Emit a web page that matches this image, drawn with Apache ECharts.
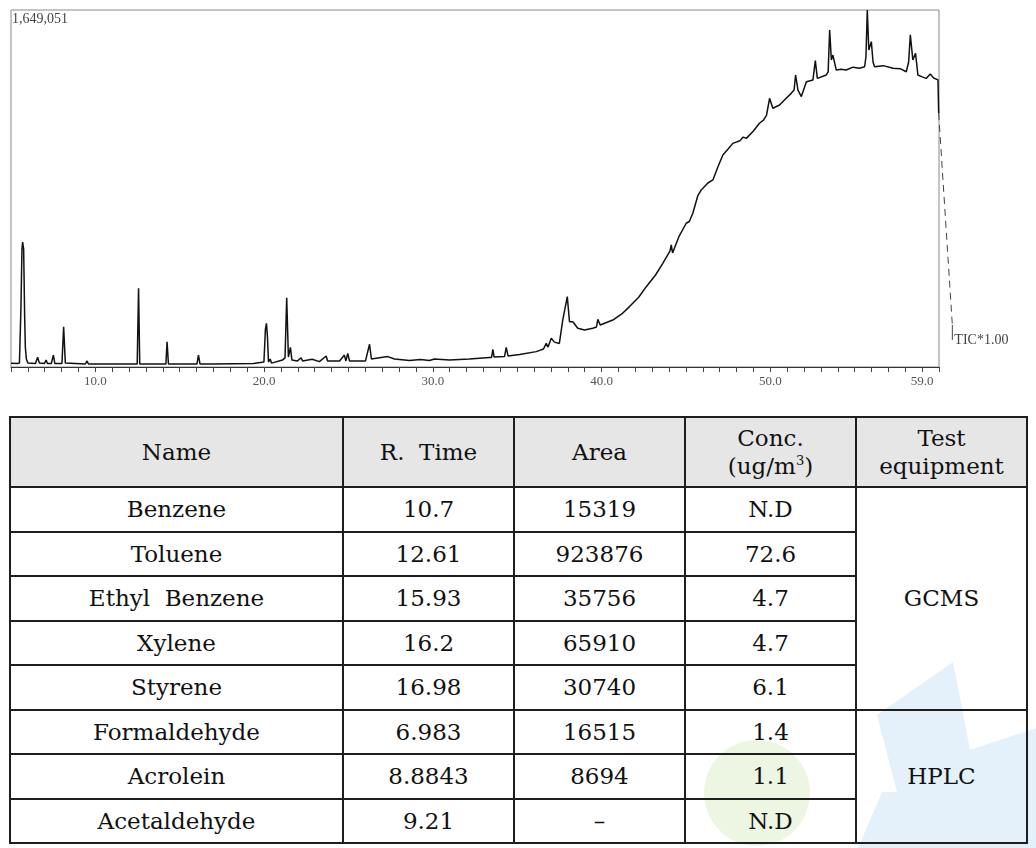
<!DOCTYPE html>
<html>
<head>
<meta charset="utf-8">
<script src="https://cdn.jsdelivr.net/npm/echarts@6/dist/echarts.min.js"></script>
<style>
  html,body{margin:0;padding:0;background:#fff;}
  body{width:1036px;height:848px;overflow:hidden;position:relative;}
  #chart{position:absolute;left:0;top:0;width:1036px;height:400px;}
  .wm-green{position:absolute;left:704px;top:740px;width:106px;height:106px;border-radius:50%;background:#edf6e2;z-index:0;}
  .wm-blue{position:absolute;left:0;top:0;width:1036px;height:848px;background:#e4f1fa;z-index:0;
    clip-path:polygon(953px 662px, 970px 750px, 1036px 728px, 1036px 848px, 858px 848px, 882px 792px, 897px 792px, 877px 715px);}
  #tbl{position:absolute;left:9px;top:416px;border-collapse:collapse;table-layout:fixed;z-index:1;
    font-family:'DejaVu Serif',serif;font-size:23px;color:#111;}
  #tbl td,#tbl th{border:2px solid #1e1e1e;text-align:center;vertical-align:middle;padding:0;font-weight:normal;white-space:pre;}
  #tbl th{background:#e6e6e6;line-height:28px;height:68px;}
  #tbl td{height:42.5px;line-height:26px;}
  #tbl sup{font-size:13px;line-height:0;vertical-align:9px;}
</style>
</head>
<body>
<div class="wm-blue"></div>
<div class="wm-green"></div>
<div id="chart"></div>
<table id="tbl"></table>
<script>
// ---- Chromatogram (TIC) data: retention time (min) and intensity (x1000 counts) ----
const earlyTime = [5.00,5.38,5.50,5.59,5.65,5.69,5.75,5.81,5.85,5.91,6.00,6.45,6.58,6.68,6.98,7.08,7.16,7.39,7.51,7.60,8.02,8.12,8.22,9.41,9.51,9.59,10.27,10.34,10.42,12.48,12.56,12.63,14.18,14.25,14.33,16.02,16.11,16.20,16.91,16.96,17.03,19.37];
const earlyInt  = [17,16,18,277,545,577,545,231,92,37,18,16,45,18,16,32,16,16,55,16,16,186,18,14,28,14,14,23,14,14,364,14,14,117,14,14,55,14,14,20,14,16];

const midTime = [19.99,20.08,20.14,20.20,20.26,20.36,20.44,21.09,21.24,21.34,21.44,21.56,21.65,21.98,22.20,22.28,22.85,23.28,23.68,23.76,24.47,24.76,24.85,24.96,25.06,26.01,26.25,26.36,27.33,27.73,28.62,29.27,29.80,30.10,30.99,32.17,33.36,33.48,33.56,33.63,34.25,34.35,34.46,35.14,36.13,36.56,36.72,36.83,37.02,37.21,37.50,37.70,37.97,38.10,38.30,38.59,38.99,39.48,39.70,39.78,39.92];
const midInt  = [23,176,202,139,23,37,18,32,42,320,46,91,32,28,43,28,36,25,51,28,28,55,28,63,28,28,105,37,48,37,30,35,30,37,32,37,44,44,82,46,48,91,51,58,71,83,109,92,133,115,109,217,325,209,209,179,171,179,185,220,194];

const lateTime = [40.67,41.2,41.66,42.2,42.65,43.2,43.63,44.06,44.13,44.21,44.6,45.02,45.2,45.41,45.7,45.91,46.0,46.3,46.60,46.9,47.19,47.5,47.78,48.2,48.4,48.58,49.0,49.36,49.6,49.78,49.96,50.15,50.55,50.9,51.24,51.41,51.50,51.64,51.84,52.14,52.53,52.67,52.79,53.32,53.43,53.52,53.62,53.71,53.91,54.2,54.50,54.9,55.29,55.59,55.67,55.75,55.84,55.99,56.09,56.18,56.7,57.27,57.7,58.06,58.20,58.30,58.45,58.61,58.75,59.0,59.24,59.48,59.68,59.94,59.98];
const lateInt  = [217,245,279,322,371,425,479,536,564,527,605,664,672,710,790,818,815,850,864,925,979,1007,1033,1045,1062,1056,1090,1126,1140,1164,1241,1195,1210,1238,1264,1279,1349,1279,1249,1318,1326,1415,1333,1349,1363,1557,1418,1441,1372,1375,1372,1385,1380,1387,1432,1649,1464,1503,1409,1387,1392,1380,1378,1364,1409,1534,1418,1449,1349,1340,1333,1353,1335,1326,1173];

// leader line from the trace end down to the "TIC*1.00" tag
const leaderTime = [59.98, 60.79];
const leaderInt  = [1173, 194];
const tagTime = [60.79, 60.79];
const tagInt  = [194, 125];

const fullScale = 1649.051;        // x1000 counts
const fullScaleLabel = '1,649,051';
const traceLabel = 'TIC*1.00';
const xLabelTicks = [10, 20, 30, 40, 50, 59];

// ---- Table data ----
const headers = ['Name', 'R.  Time', 'Area', 'Conc.<br>(ug/m<sup>3</sup>)', 'Test<br>equipment'];
const names = ['Benzene','Toluene','Ethyl  Benzene','Xylene','Styrene','Formaldehyde','Acrolein','Acetaldehyde'];
const rTimes = ['10.7','12.61','15.93','16.2','16.98','6.983','8.8843','9.21'];
const areas = ['15319','923876','35756','65910','30740','16515','8694','–'];
const concs = ['N.D','72.6','4.7','4.7','6.1','1.4','1.1','N.D'];
const equipment = ['GCMS','HPLC'];
const equipmentRows = [5, 3];

function zip(a, b){ return a.map((v, i) => [v, b[i]]); }
const trace = zip(earlyTime, earlyInt).concat(zip(midTime, midInt), zip(lateTime, lateInt));

const serif = 'Liberation Serif';
const chart = echarts.init(document.getElementById('chart'));
chart.setOption({
  animation: false,
  title: {
    text: fullScaleLabel, left: 12, top: 12, padding: 0,
    textStyle: {fontFamily: serif, fontSize: 14, fontWeight: 'normal', color: '#444'}
  },
  grid: {left: 11, right: 97, top: 10, bottom: 33, show: true, borderColor: '#8a8a8a', borderWidth: 1},
  xAxis: {
    type: 'value', min: 5, max: 60, interval: 1,
    axisLine: {lineStyle: {color: '#333', width: 1}},
    axisTick: {length: 5, lineStyle: {color: '#444'}},
    splitLine: {show: false},
    axisLabel: {
      margin: 8, fontFamily: serif, fontSize: 13, color: '#555',
      formatter: v => xLabelTicks.indexOf(Math.round(v)) >= 0 ? Number(v).toFixed(1) : ''
    }
  },
  yAxis: {type: 'value', min: 0, max: fullScale, show: false, splitLine: {show: false}},
  series: [
    {type: 'line', data: trace, symbol: 'none', silent: true,
     lineStyle: {color: '#111', width: 1.5}}
  ]
});

// leader + tag lie outside the plot area: place them through the axis scales
const toPx = p => chart.convertToPixel({xAxisIndex: 0, yAxisIndex: 0}, p);
const leaderPts = zip(leaderTime, leaderInt).map(toPx);
const tagPts = zip(tagTime, tagInt).map(toPx);
const tagEnd = tagPts[tagPts.length - 1];
chart.setOption({
  graphic: [
    {type: 'polyline', silent: true, shape: {points: leaderPts},
     style: {stroke: '#444', lineWidth: 1, lineDash: [7, 5], fill: null}},
    {type: 'polyline', silent: true, shape: {points: tagPts},
     style: {stroke: '#444', lineWidth: 1, fill: null}},
    {type: 'text', silent: true, x: tagEnd[0] + 2, y: tagEnd[1],
     style: {text: traceLabel, fontFamily: serif, fontSize: 14, fill: '#444', verticalAlign: 'middle', align: 'left'}}
  ]
});

// ---- Build table ----
const tbl = document.getElementById('tbl');
const widths = [333, 171, 171, 171, 171];
let html = '<colgroup>' + widths.map(w => '<col style="width:' + w + 'px">').join('') + '</colgroup>';
html += '<tr>' + headers.map(h => '<th>' + h + '</th>').join('') + '</tr>';
let eqIdx = 0, eqStart = 0;
for (let i = 0; i < names.length; i++) {
  html += '<tr><td>' + names[i] + '</td><td>' + rTimes[i] + '</td><td>' + areas[i] + '</td><td>' + concs[i] + '</td>';
  if (i === eqStart) {
    html += '<td rowspan="' + equipmentRows[eqIdx] + '">' + equipment[eqIdx] + '</td>';
    eqStart += equipmentRows[eqIdx];
    eqIdx++;
  }
  html += '</tr>';
}
tbl.innerHTML = html;
</script>
</body>
</html>
